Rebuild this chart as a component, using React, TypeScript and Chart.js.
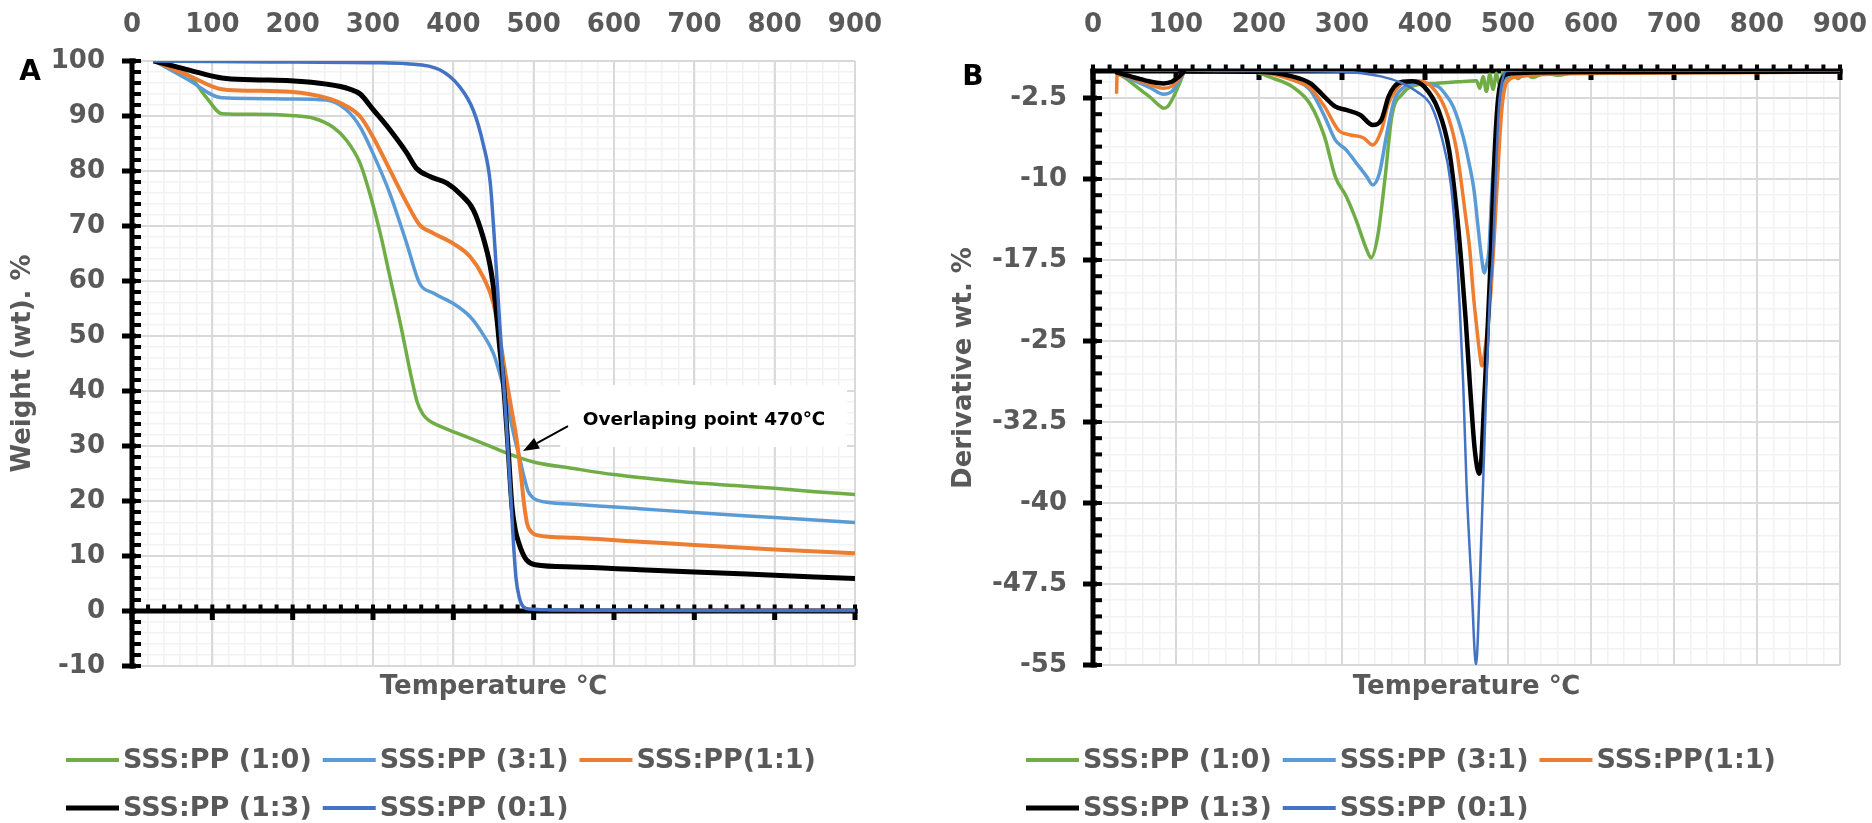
import React, { useEffect, useRef } from 'react';
import { Chart, registerables } from 'chart.js';

Chart.register(...registerables);

const FONT = "'DejaVu Sans', Verdana, sans-serif";
const TEXT_GRAY = '#595959';
const GRID_MAJOR = '#D9D9D9';
const GRID_MINOR = '#F2F2F2';

Chart.defaults.font.family = FONT;

// ---------- series meta ----------
const SERIES_LABELS = ['SSS:PP (1:0)', 'SSS:PP (3:1)', 'SSS:PP(1:1)', 'SSS:PP (1:3)', 'SSS:PP (0:1)'];
const SERIES_COLORS = ['#70AD47', '#5B9BD5', '#ED7D31', '#000000', '#4472C4'];
const LEGEND_ROWS = [[0, 1, 2], [3, 4]];

// ---------- ticks ----------
const X_MAJOR_TICKS = [0, 100, 200, 300, 400, 500, 600, 700, 800, 900];
const X_MINOR_STEP = 20;
const A_Y_MAJOR_TICKS = [-10, 0, 10, 20, 30, 40, 50, 60, 70, 80, 90, 100];
const A_Y_MINOR_STEP = 2;
const B_Y_MAJOR_TICKS = [-55, -47.5, -40, -32.5, -25, -17.5, -10, -2.5];
const B_Y_MINOR_STEP = 1.5;

// ---------- A: TGA weight (%) vs temperature (°C) ----------
const A_1_0 = [
  [28, 100], [50, 98.8], [72, 97.2], [93, 93.3], [112, 90.4], [150, 90.3], [197, 90.1], [226, 89.6],
  [250, 88.0], [267, 85.6], [284, 81.4], [296, 75.9], [309, 68.7], [321, 60.8], [334, 52.3], [348, 42.3],
  [355, 38.0], [362, 35.8], [370, 34.6], [383, 33.6], [407, 32.2], [440, 30.3], [465, 28.8], [500, 27.1],
  [550, 25.9], [600, 24.8], [650, 24.0], [700, 23.3], [750, 22.8], [800, 22.3], [850, 21.7], [900, 21.2],
];
const A_3_1 = [
  [28, 100], [70, 96.6], [112, 93.3], [150, 93.2], [197, 93.1], [242, 92.9], [267, 91.1], [284, 88.0],
  [300, 83.2], [321, 75.9], [342, 66.8], [358, 59.6], [375, 57.8], [400, 55.9], [421, 53.5], [437, 50.3],
  [450, 46.8], [460, 42.0], [466, 38.4], [471, 35.0], [477, 31.0], [483, 27.5], [488, 24.4], [493, 21.8],
  [499, 20.6], [505, 20.1], [550, 19.4], [632, 18.6], [700, 17.9], [800, 17.0], [900, 16.1],
];
const A_1_1 = [
  [28, 100], [70, 97.4], [114, 94.8], [150, 94.6], [197, 94.4], [242, 93.3], [267, 91.8], [284, 89.9],
  [300, 86.2], [321, 80.2], [342, 74.2], [358, 70.2], [375, 68.7], [400, 66.8], [421, 64.4], [437, 60.8],
  [450, 55.9], [458, 49.5], [465, 43.0], [472, 37.0], [479, 31.0], [484, 25.0], [488, 19.5], [492, 15.8],
  [497, 14.4], [504, 13.8], [550, 13.3], [632, 12.6], [700, 12.0], [800, 11.2], [900, 10.5],
];
const A_1_3 = [
  [27, 100], [70, 98.4], [112, 96.9], [150, 96.6], [197, 96.4], [242, 95.8], [271, 94.9], [284, 94.0],
  [300, 91.2], [321, 87.5], [342, 83.3], [354, 80.5], [371, 79.0], [392, 77.8], [408, 75.9], [425, 72.9],
  [437, 68.0], [446, 62.6], [452, 56.5], [458, 47.5], [462, 42.0], [464, 38.4], [468, 30.0], [473, 19.0],
  [477, 14.8], [481, 12.6], [486, 10.6], [491, 9.3], [502, 8.4], [550, 8.0], [632, 7.5], [700, 7.1],
  [800, 6.5], [900, 5.9],
];
const A_0_1 = [
  [27, 100], [100, 99.9], [200, 99.8], [300, 99.7], [342, 99.5], [383, 98.4], [408, 95.3], [425, 91.0],
  [437, 85.0], [446, 77.8], [452, 65.6], [457, 54.0], [461, 45.0], [466, 34.0], [471, 22.0], [475, 12.0],
  [478, 6.0], [482, 2.5], [487, 0.8], [495, 0.35], [520, 0.2], [600, 0.15], [700, 0.1], [800, 0.1], [900, 0.1],
];

// ---------- B: DTG derivative weight vs temperature (°C) ----------
const B_1_0 = [
  [29, -0.2], [40, -0.7], [50, -1.3], [60, -1.9], [70, -2.5], [80, -3.2], [85, -3.45], [90, -3.3],
  [97, -2.4], [104, -1.2], [111, -0.1], [130, -0.05], [160, -0.05], [193, -0.1], [218, -0.7], [240, -1.45],
  [262, -3.1], [279, -6.1], [292, -9.8], [305, -11.6], [317, -13.8], [330, -16.6], [335, -17.3], [343, -15.3],
  [352, -9.8], [360, -4.2], [373, -2.1], [390, -1.3], [412, -1.15], [440, -1.0], [462, -0.9], [466, -1.6],
  [470, -0.5], [474, -1.9], [478, -0.3], [482, -1.7], [486, -0.2], [490, -1.4], [493, -0.4], [496, 0.9],
  [500, -0.9], [505, -0.3], [512, -0.7], [520, -0.25], [530, -0.6], [545, -0.2], [560, -0.4], [580, -0.15],
  [620, -0.2], [700, -0.1], [800, -0.05], [900, -0.05],
];
const B_3_1 = [
  [29, -0.2], [50, -0.9], [70, -1.6], [85, -2.15], [95, -1.9], [104, -0.9], [111, -0.1], [150, -0.05],
  [200, -0.1], [240, -0.7], [262, -1.8], [279, -4.2], [292, -6.4], [305, -7.3], [317, -8.5], [330, -9.8],
  [337, -10.55], [345, -9.5], [354, -5.8], [363, -2.7], [373, -1.6], [390, -1.14], [405, -1.2], [416, -1.45],
  [425, -2.2], [434, -3.3], [446, -6.1], [453, -8.5], [459, -11.0], [464, -14.5], [468, -17.2], [471.5, -18.7],
  [474, -18.0], [477, -16.6], [481, -10.4], [485, -6.5], [488, -4.2], [494, -1.14], [500, -0.4], [520, -0.3],
  [560, -0.2], [650, -0.15], [800, -0.1], [900, -0.1],
];
const B_1_1 = [
  [28.4, -2.1], [29, -0.3], [50, -0.75], [70, -1.3], [85, -1.6], [95, -1.4], [104, -0.7], [111, -0.1],
  [150, -0.05], [200, -0.1], [240, -0.83], [262, -1.6], [279, -3.3], [296, -5.5], [309, -5.9], [326, -6.2],
  [337, -6.85], [347.5, -5.5], [356, -3.0], [365, -1.76], [373, -1.14], [390, -0.9], [408, -1.45], [425, -3.6],
  [438, -7.3], [449, -13.5], [454, -16.6], [458, -20.5], [462, -23.5], [466, -26.2], [468.5, -27.3], [471, -26.5],
  [475, -24.0], [479, -20.8], [483, -16.0], [487, -10.5], [490, -6.3], [493, -3.2], [497, -1.3], [501, -0.8],
  [515, -0.5], [550, -0.3], [650, -0.2], [900, -0.1],
];
const B_1_3 = [
  [27, -0.1], [50, -0.6], [70, -1.0], [85, -1.15], [95, -1.0], [104, -0.5], [111, -0.05], [150, -0.05],
  [200, -0.08], [240, -0.5], [262, -1.14], [279, -2.4], [292, -3.3], [305, -3.6], [322, -4.07], [337, -5.0],
  [347.5, -4.5], [356, -2.4], [363, -1.45], [373, -1.0], [385, -0.95], [399, -1.45], [416, -3.6], [429, -7.3],
  [438, -12.9], [444, -18.0], [449, -23.0], [454, -28.9], [460, -35.1], [465.4, -37.3], [468, -35.8], [471, -31.0],
  [474.5, -25.5], [478, -19.5], [481, -13.5], [484, -7.5], [487, -3.5], [490, -1.5], [496, -0.4], [505, -0.2],
  [600, -0.1], [900, -0.05],
];
const B_0_1 = [
  [32, 0.1], [33, 0.55], [35, 0.1], [60, 0.05], [100, 0.05], [111, 0.2], [113, 0.05], [200, 0.0],
  [250, -0.02], [300, -0.06], [347, -0.5], [373, -1.14], [390, -1.9], [408, -3.3], [420, -6.1], [431, -10.4],
  [438, -16.6], [442, -22.1], [446, -28.9], [450, -38.2], [456, -47.4], [461.5, -55.0], [466, -47.4], [470, -38.2],
  [474, -28.9], [478, -21.2], [482, -16.6], [485, -10.4], [489, -3.4], [494, -0.6], [498, 0.0], [520, 0.05],
  [600, 0.05], [700, 0.05], [800, 0.05], [900, 0.05],
];

// ---------- helpers ----------
function steps(from: number, to: number, step: number): number[] {
  const out: number[] = [];
  const n = Math.round((to - from) / step);
  for (let k = 0; k <= n; k++) out.push(+(from + k * step).toFixed(6));
  return out;
}
const X_MINOR_TICKS = steps(0, 900, X_MINOR_STEP);
const A_Y_MINOR_TICKS = steps(-10, 100, A_Y_MINOR_STEP);
const B_Y_MINOR_TICKS = [...steps(-55, -1, B_Y_MINOR_STEP), 0];

const isIn = (v: number, arr: number[]) => arr.some((m) => Math.abs(m - v) < 1e-6);

function makeAxesPlugin(spec: any) {
  return {
    id: 'excelAxes',
    beforeDatasetsDraw(chart: any) {
      const { ctx, chartArea: ca } = chart;
      const xs = chart.scales.x;
      const ys = chart.scales.y;
      ctx.save();
      // major gridlines over minor ones
      ctx.strokeStyle = GRID_MAJOR;
      ctx.lineWidth = 1.8;
      ctx.beginPath();
      X_MAJOR_TICKS.forEach((v) => {
        const p = xs.getPixelForValue(v);
        ctx.moveTo(p, ca.top);
        ctx.lineTo(p, ca.bottom);
      });
      spec.yMajor.forEach((v: number) => {
        const p = ys.getPixelForValue(v);
        ctx.moveTo(ca.left, p);
        ctx.lineTo(ca.right, p);
      });
      ctx.stroke();

      ctx.fillStyle = '#000';
      const ax = xs.getPixelForValue(0);
      const ay = ys.getPixelForValue(0);
      const xL = xs.getPixelForValue(xs.min);
      const xR = xs.getPixelForValue(xs.max);
      // horizontal axis line (crosses at value 0)
      ctx.fillRect(xL - 2.5, ay - 2.5, xR - xL + 5, 5);
      X_MINOR_TICKS.forEach((v) => {
        const p = xs.getPixelForValue(v);
        ctx.fillRect(p - 2, ay - 6.5, 4, 5);
      });
      X_MAJOR_TICKS.forEach((v) => {
        const p = xs.getPixelForValue(v);
        ctx.fillRect(p - 2.5, ay - 2, 5, 11);
      });
      // vertical axis line
      const yT = ys.getPixelForValue(ys.max);
      const yB = ys.getPixelForValue(ys.min);
      ctx.fillRect(ax - 2.5, yT - 2.5, 5, yB - yT + 5);
      spec.yMinor.forEach((v: number) => {
        const p = ys.getPixelForValue(v);
        ctx.fillRect(ax, p - 2, 9, 4);
      });
      spec.yMajor.forEach((v: number) => {
        const p = ys.getPixelForValue(v);
        ctx.fillRect(ax - 10, p - 2.5, 14, 5);
      });
      ctx.restore();
    },
  };
}

function makeNotePlugin(spec: any) {
  return {
    id: 'overlapNote',
    beforeDatasetsDraw(chart: any) {
      const note = spec.note;
      if (!note) return;
      const { ctx } = chart;
      const xs = chart.scales.x;
      const ys = chart.scales.y;
      const x0 = xs.getPixelForValue(note.box[0]);
      const x1 = xs.getPixelForValue(note.box[1]);
      const y0 = ys.getPixelForValue(note.box[2]);
      const y1 = ys.getPixelForValue(note.box[3]);
      ctx.save();
      ctx.fillStyle = '#FFFFFF';
      ctx.fillRect(x0, y0, x1 - x0, y1 - y0);
      ctx.restore();
    },
    afterDatasetsDraw(chart: any) {
      const note = spec.note;
      if (!note) return;
      const { ctx } = chart;
      const xs = chart.scales.x;
      const ys = chart.scales.y;
      ctx.save();
      ctx.font = `bold 18.5px ${FONT}`;
      ctx.fillStyle = '#000';
      ctx.textAlign = 'left';
      ctx.textBaseline = 'middle';
      ctx.fillText(note.text, xs.getPixelForValue(note.textAt[0]), ys.getPixelForValue(note.textAt[1]));
      const ax1 = xs.getPixelForValue(note.arrowFrom[0]);
      const ay1 = ys.getPixelForValue(note.arrowFrom[1]);
      const ax2 = xs.getPixelForValue(note.arrowTo[0]);
      const ay2 = ys.getPixelForValue(note.arrowTo[1]);
      const ang = Math.atan2(ay2 - ay1, ax2 - ax1);
      const head = 16;
      const half = 6;
      const bx = ax2 - head * Math.cos(ang);
      const by = ay2 - head * Math.sin(ang);
      ctx.strokeStyle = '#000';
      ctx.lineWidth = 2;
      ctx.beginPath();
      ctx.moveTo(ax1, ay1);
      ctx.lineTo(bx, by);
      ctx.stroke();
      ctx.beginPath();
      ctx.moveTo(ax2, ay2);
      ctx.lineTo(bx + half * Math.sin(ang), by - half * Math.cos(ang));
      ctx.lineTo(bx - half * Math.sin(ang), by + half * Math.cos(ang));
      ctx.closePath();
      ctx.fill();
      ctx.restore();
    },
  };
}

function makeLegendPlugin(spec: any) {
  return {
    id: 'lineLegend',
    afterDraw(chart: any) {
      const { ctx } = chart;
      ctx.save();
      ctx.font = `bold 27px ${FONT}`;
      ctx.textBaseline = 'middle';
      ctx.textAlign = 'left';
      LEGEND_ROWS.forEach((row, ri) => {
        let x = spec.legendX;
        const y = spec.legendY[ri];
        row.forEach((i) => {
          const ds = chart.data.datasets[i];
          const lw = i === 3 ? 5 : 4;
          ctx.fillStyle = ds.borderColor;
          ctx.fillRect(x, y - lw / 2, 53, lw);
          ctx.fillStyle = TEXT_GRAY;
          ctx.fillText(ds.label, x + 57, y + 1);
          x += 57 + ctx.measureText(ds.label).width + 11;
        });
      });
      ctx.restore();
    },
  };
}

function makePanelLabelPlugin(spec: any) {
  return {
    id: 'panelLabel',
    afterDraw(chart: any) {
      const { ctx } = chart;
      ctx.save();
      ctx.font = `bold 28px ${FONT}`;
      ctx.fillStyle = '#000';
      ctx.textAlign = 'center';
      ctx.textBaseline = 'middle';
      ctx.fillText(spec.panel, spec.panelX, spec.panelY);
      ctx.restore();
    },
  };
}

function buildConfig(spec: any) {
  const tickFont = { size: 26, weight: 'bold' as const, family: FONT };
  return {
    type: 'line' as const,
    data: {
      datasets: spec.series.map((pts: number[][], i: number) => ({
        label: SERIES_LABELS[i],
        data: pts.map(([x, y]) => ({ x, y })),
        borderColor: SERIES_COLORS[i],
        backgroundColor: SERIES_COLORS[i],
        borderWidth: spec.lineWidths[i],
        pointRadius: 0,
        pointHoverRadius: 0,
        fill: false,
        cubicInterpolationMode: 'monotone' as const,
        xAxisID: 'x',
        yAxisID: 'y',
        order: SERIES_LABELS.length - 1 - i,
      })),
    },
    options: {
      animation: false as const,
      responsive: false,
      devicePixelRatio: 1,
      events: [],
      layout: { padding: { left: 0, top: 0, right: spec.rightPad, bottom: 0 } },
      plugins: {
        legend: { display: false },
        tooltip: { enabled: false },
        title: { display: false },
      },
      scales: {
        x: {
          type: 'linear' as const,
          position: 'top' as const,
          min: 0,
          max: 900,
          afterBuildTicks: (s: any) => {
            s.ticks = X_MINOR_TICKS.map((v) => ({ value: v }));
          },
          afterFit: (s: any) => {
            s.height = spec.topHeight;
            s.paddingLeft = 0;
            s.paddingRight = 0;
          },
          border: { display: false },
          grid: {
            drawTicks: false,
            color: (c: any) => (c.tick && isIn(c.tick.value, X_MAJOR_TICKS) ? GRID_MAJOR : GRID_MINOR),
            lineWidth: (c: any) => (c.tick && isIn(c.tick.value, X_MAJOR_TICKS) ? 1.8 : 1.5),
          },
          ticks: {
            autoSkip: false,
            maxRotation: 0,
            minRotation: 0,
            padding: spec.xTickPad,
            color: TEXT_GRAY,
            font: tickFont,
            callback: (v: any) => (isIn(Number(v), X_MAJOR_TICKS) ? String(v) : ''),
          },
        },
        xb: {
          type: 'linear' as const,
          position: 'bottom' as const,
          min: 0,
          max: 900,
          afterFit: (s: any) => {
            s.height = spec.bottomHeight;
            s.paddingLeft = 0;
            s.paddingRight = 0;
          },
          border: { display: false },
          grid: { display: false },
          ticks: { display: false },
          title: {
            display: true,
            text: 'Temperature ℃',
            color: TEXT_GRAY,
            font: { size: 26, weight: 'bold' as const, family: FONT },
            padding: { top: 0, bottom: spec.xTitlePad },
          },
        },
        y: {
          type: 'linear' as const,
          position: 'left' as const,
          min: spec.yMin,
          max: spec.yMax,
          afterBuildTicks: (s: any) => {
            s.ticks = spec.yMinor.map((v: number) => ({ value: v }));
          },
          afterFit: (s: any) => {
            s.width = spec.axisWidth;
            s.paddingTop = 0;
            s.paddingBottom = 0;
          },
          border: { display: false },
          grid: {
            drawTicks: false,
            color: (c: any) => (c.tick && isIn(c.tick.value, spec.yMajor) ? GRID_MAJOR : GRID_MINOR),
            lineWidth: (c: any) => (c.tick && isIn(c.tick.value, spec.yMajor) ? 1.8 : 1.5),
          },
          ticks: {
            autoSkip: false,
            padding: spec.yTickPad,
            color: TEXT_GRAY,
            font: tickFont,
            callback: (v: any) => (isIn(Number(v), spec.yMajor) ? String(v) : ''),
          },
          title: {
            display: true,
            text: spec.yTitle,
            color: TEXT_GRAY,
            font: { size: 26, weight: 'bold' as const, family: FONT },
            padding: { top: spec.yTitlePad, bottom: 0 },
          },
        },
      },
    },
    plugins: [makeAxesPlugin(spec), makeNotePlugin(spec), makeLegendPlugin(spec), makePanelLabelPlugin(spec)],
  };
}

const SPEC_A = {
  series: [A_1_0, A_3_1, A_1_1, A_1_3, A_0_1],
  lineWidths: [3.5, 3.5, 4, 5, 3.5],
  yMin: -10,
  yMax: 100,
  yMajor: A_Y_MAJOR_TICKS,
  yMinor: A_Y_MINOR_TICKS,
  yTitle: 'Weight (wt). %',
  axisWidth: 132,
  topHeight: 61,
  bottomHeight: 157,
  rightPad: 85,
  xTickPad: 20.4,
  yTickPad: 27,
  yTitlePad: 8,
  xTitlePad: 120.4,
  legendX: 66,
  legendY: [760, 808],
  panel: 'A',
  panelX: 30,
  panelY: 73,
  note: {
    text: 'Overlaping point 470℃',
    box: [533, 890, 41.1, 29.8],
    textAt: [561, 34.7],
    arrowFrom: [542.7, 33.6],
    arrowTo: [486.7, 29.1],
  },
};

const SPEC_B = {
  series: [B_1_0, B_3_1, B_1_1, B_1_3, B_0_1],
  lineWidths: [3.5, 3.5, 3.5, 4.5, 2.5],
  yMin: -55,
  yMax: 0,
  yMajor: B_Y_MAJOR_TICKS,
  yMinor: B_Y_MINOR_TICKS,
  yTitle: 'Derivative wt. %',
  axisWidth: 153,
  topHeight: 71,
  bottomHeight: 158,
  rightPad: 32,
  xTickPad: 30.4,
  yTickPad: 26,
  yTitlePad: 9,
  xTitlePad: 120.4,
  legendX: 86,
  legendY: [760, 808],
  panel: 'B',
  panelX: 33,
  panelY: 78,
  note: null,
};

function Panel({ spec, left, width }: { spec: any; left: number; width: number }) {
  const ref = useRef<HTMLCanvasElement>(null);
  useEffect(() => {
    const chart = new Chart(ref.current as HTMLCanvasElement, buildConfig(spec) as any);
    return () => chart.destroy();
  }, [spec]);
  return (
    <canvas
      ref={ref}
      width={width}
      height={823}
      style={{ position: 'absolute', left, top: 0, width, height: 823 }}
    />
  );
}

export default function App() {
  return (
    <div style={{ position: 'absolute', left: 0, top: 0, width: 1872, height: 823, background: '#FFFFFF' }}>
      <Panel spec={SPEC_A} left={0} width={940} />
      <Panel spec={SPEC_B} left={940} width={932} />
    </div>
  );
}
